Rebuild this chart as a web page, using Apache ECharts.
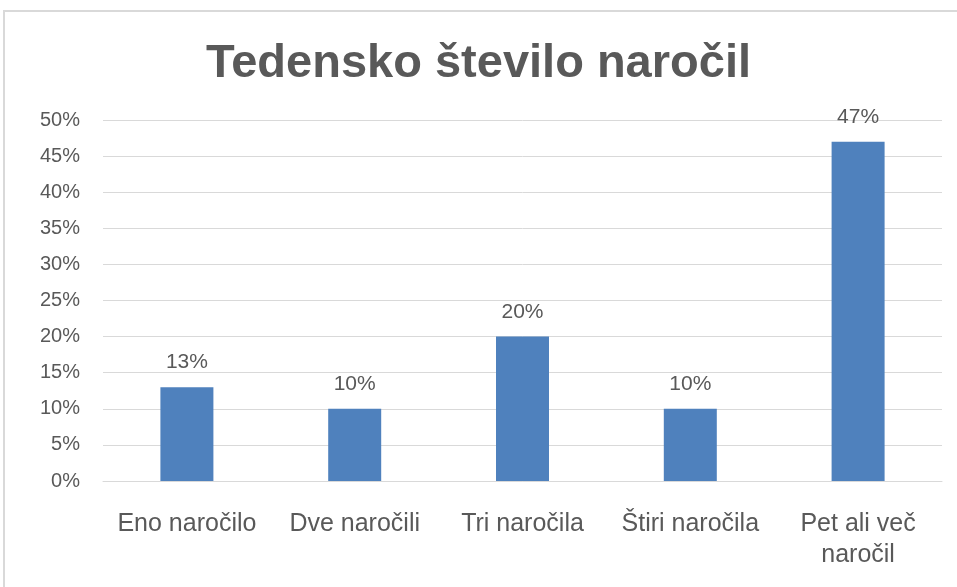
<!DOCTYPE html>
<html>
<head>
<meta charset="utf-8">
<style>
	html, body { margin: 0; padding: 0; background: #fff; }
	#chart { width: 957px; height: 587px; }
</style>
<script src="https://cdn.jsdelivr.net/npm/echarts@6/dist/echarts.min.js"></script>
</head>
<body>
<div id="chart"></div>
<script>
var categories = ['Eno naročilo', 'Dve naročili', 'Tri naročila', 'Štiri naročila', 'Pet ali več\nnaročil'];
var shares = [13, 10, 20, 10, 47];
var titleText = 'Tedensko število naročil';

var chart = echarts.init(document.getElementById('chart'));
var labelFont = {
	fontFamily: 'Liberation Sans',
	color: '#595959'
};
chart.setOption({
	animation: false,
	title: {
		text: titleText,
		left: 'center',
		top: 36,
		textStyle: {
			fontFamily: 'Liberation Sans',
			fontSize: 47,
			fontWeight: 'bold',
			color: '#595959'
		}
	},
	graphic: [{
		type: 'rect',
		shape: { x: 4, y: 11, width: 970, height: 600 },
		style: { fill: 'none', stroke: '#D9D9D9', lineWidth: 2 },
		silent: true
	}],
	grid: {
		left: 103,
		right: 15,
		top: 120,
		bottom: 106
	},
	xAxis: {
		type: 'category',
		data: categories,
		axisTick: { show: false },
		axisLine: { lineStyle: { color: '#D9D9D9', width: 1 } },
		axisLabel: Object.assign({
			fontSize: 25,
			margin: 28,
			lineHeight: 31,
			interval: 0
		}, labelFont)
	},
	yAxis: {
		type: 'value',
		min: 0,
		max: 50,
		interval: 5,
		axisLine: { show: false },
		axisTick: { show: false },
		splitLine: { lineStyle: { color: '#D9D9D9', width: 1 } },
		axisLabel: Object.assign({
			fontSize: 20,
			margin: 23,
			formatter: '{value}%'
		}, labelFont)
	},
	series: [{
		type: 'bar',
		data: shares,
		barWidth: 53,
		itemStyle: { color: '#4F81BD' },
		label: Object.assign({
			show: true,
			position: 'top',
			distance: 14,
			fontSize: 21,
			formatter: '{c}%'
		}, labelFont)
	}]
});
</script>
</body>
</html>
